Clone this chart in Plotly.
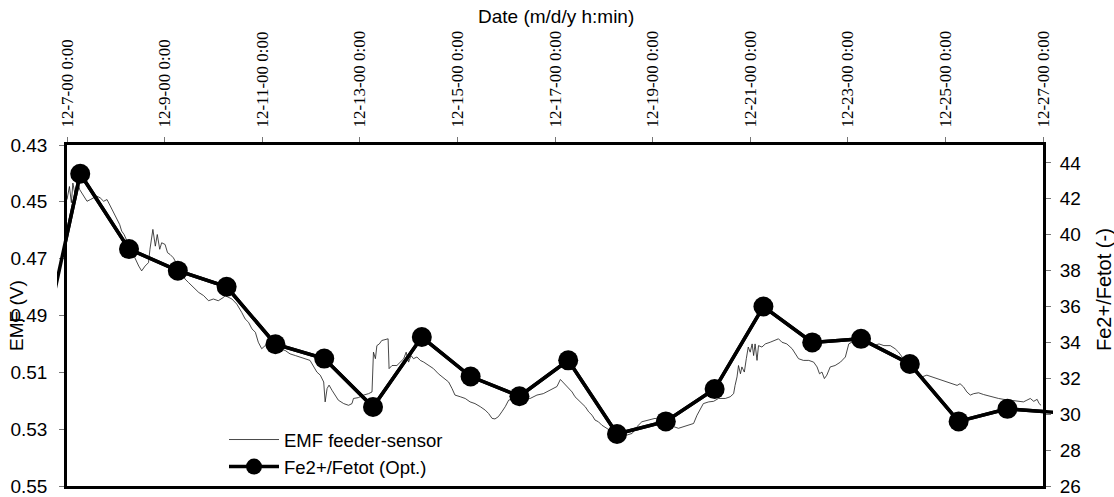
import plotly.graph_objects as go
import pandas as pd

# ---------------- data ----------------
start = pd.Timestamp("2000-12-07 00:00")
end = pd.Timestamp("2000-12-27 00:00")

# EMF feeder-sensor: days after 12-7-00 0:00, volts
emf_day = [
    0.00, 0.05, 0.09, 0.12, 0.17, 0.22, 0.26, 0.30, 0.35, 0.41, 0.48, 0.54, 0.61, 0.68,
    0.75, 0.82, 0.87, 0.92, 0.97, 1.02, 1.08, 1.12, 1.17, 1.23, 1.30, 1.40, 1.47, 1.53,
    1.60, 1.67, 1.70, 1.76, 1.81, 1.85, 1.90, 1.94, 2.01, 2.06, 2.11, 2.18, 2.30, 2.42,
    2.49, 2.59, 2.70, 2.80, 2.90, 3.00, 3.10, 3.21, 3.24, 3.38, 3.48, 3.58, 3.65, 3.72,
    3.79, 3.86, 3.92, 3.99, 4.06, 4.13, 4.30, 4.47, 4.57, 4.68, 4.78, 4.88, 4.98, 5.12,
    5.19, 5.26, 5.29, 5.33, 5.37, 5.43, 5.50, 5.56, 5.67, 5.77, 5.84, 5.87, 5.97, 6.08,
    6.18, 6.25, 6.28, 6.32, 6.35, 6.40, 6.45, 6.52, 6.58, 6.60, 6.66, 6.76, 6.83, 6.90,
    6.95, 7.00, 7.05, 7.10, 7.17, 7.24, 7.31, 7.41, 7.51, 7.61, 7.72, 7.82, 7.89, 7.95,
    8.06, 8.16, 8.26, 8.36, 8.47, 8.57, 8.64, 8.71, 8.77, 8.84, 8.91, 8.98, 9.05, 9.25,
    9.49, 9.63, 9.76, 9.90, 10.04, 10.11, 10.21, 10.28, 10.35, 10.41, 10.48, 10.55, 10.62,
    10.69, 10.76, 10.82, 10.89, 10.96, 11.06, 11.17, 11.30, 11.47, 11.58, 11.68, 11.78,
    11.92, 12.05, 12.20, 12.43, 12.53, 12.63, 12.74, 12.84, 12.91, 12.98, 13.04, 13.15,
    13.25, 13.35, 13.49, 13.59, 13.66, 13.69, 13.73, 13.76, 13.80, 13.83, 13.88, 13.92,
    13.96, 14.00, 14.04, 14.07, 14.10, 14.14, 14.17, 14.24, 14.31, 14.41, 14.51, 14.58,
    14.65, 14.75, 14.86, 14.92, 14.99, 15.09, 15.20, 15.30, 15.37, 15.42, 15.47, 15.52,
    15.57, 15.64, 15.74, 15.85, 15.95, 16.02, 16.08, 16.25, 16.43, 16.53, 16.64, 16.74,
    16.87, 16.97, 17.04, 17.15, 17.30, 17.45, 17.52, 17.62, 17.72, 17.83, 17.93, 18.03,
    18.13, 18.24, 18.30, 18.37, 18.44, 18.51, 18.58, 18.68, 18.78, 18.88, 18.99, 19.09,
    19.19, 19.35, 19.50, 19.60, 19.67, 19.74, 19.81, 19.88, 19.92, 19.96,
]
emf_volt = [
    0.4492, 0.4446, 0.4503, 0.4434, 0.4480, 0.4428, 0.4457, 0.4469, 0.4480, 0.4498, 0.4492, 0.4486, 0.4480, 0.4486,
    0.4498, 0.4492, 0.4510, 0.4527, 0.4545, 0.4562, 0.4580, 0.4603, 0.4615, 0.4638, 0.4665, 0.4702, 0.4726, 0.4743,
    0.4726, 0.4714, 0.4667, 0.4597, 0.4656, 0.4615, 0.4667, 0.4644, 0.4650, 0.4679, 0.4685, 0.4697, 0.4735, 0.4772,
    0.4784, 0.4801, 0.4819, 0.4830, 0.4848, 0.4842, 0.4848, 0.4836, 0.4830, 0.4842, 0.4860, 0.4889, 0.4912, 0.4924,
    0.4947, 0.4959, 0.4994, 0.5017, 0.5006, 0.5011, 0.5015, 0.5023, 0.5035, 0.5041, 0.5046, 0.5052, 0.5058, 0.5099,
    0.5110, 0.5134, 0.5204, 0.5157, 0.5145, 0.5163, 0.5180, 0.5198, 0.5210, 0.5216, 0.5210, 0.5192, 0.5189, 0.5180,
    0.5175, 0.5169, 0.5029, 0.5052, 0.5006, 0.5000, 0.4988, 0.4985, 0.4982, 0.5087, 0.5076, 0.5076, 0.5064, 0.5052,
    0.5029, 0.5064, 0.5041, 0.5052, 0.5046, 0.5058, 0.5064, 0.5076, 0.5087, 0.5105, 0.5122, 0.5134, 0.5157, 0.5180,
    0.5186, 0.5192, 0.5204, 0.5210, 0.5221, 0.5233, 0.5245, 0.5262, 0.5264, 0.5256, 0.5239, 0.5221, 0.5198, 0.5186,
    0.5192, 0.5180, 0.5175, 0.5163, 0.5150, 0.5125, 0.5143, 0.5157, 0.5169, 0.5186, 0.5198, 0.5210, 0.5221,
    0.5239, 0.5251, 0.5268, 0.5274, 0.5286, 0.5297, 0.5309, 0.5318, 0.5321, 0.5315, 0.5291, 0.5274,
    0.5268, 0.5262, 0.5270, 0.5291, 0.5297, 0.5291, 0.5286, 0.5280, 0.5251, 0.5227, 0.5210, 0.5204,
    0.5202, 0.5192, 0.5192, 0.5186, 0.5175, 0.5146, 0.5116, 0.5076, 0.5105, 0.5081, 0.5099, 0.5052,
    0.5011, 0.5029, 0.5000, 0.5041, 0.5000, 0.5058, 0.5006, 0.5011, 0.5000, 0.4994, 0.4988, 0.4982,
    0.4994, 0.5000, 0.5017, 0.5035, 0.5052, 0.5058, 0.5058, 0.5064, 0.5081, 0.5105, 0.5099, 0.5122,
    0.5110, 0.5081, 0.5076, 0.5064, 0.5046, 0.5000, 0.4994, 0.4992, 0.5000, 0.5006, 0.5000, 0.5006,
    0.5006, 0.5017, 0.5029, 0.5055, 0.5090, 0.5110, 0.5116, 0.5110, 0.5116, 0.5122, 0.5128, 0.5134,
    0.5140, 0.5146, 0.5140, 0.5151, 0.5169, 0.5180, 0.5175, 0.5172, 0.5178, 0.5183, 0.5188, 0.5192,
    0.5195, 0.5198, 0.5202, 0.5204, 0.5198, 0.5192, 0.5202, 0.5195, 0.5210, 0.5216,
]

# Fe2+/Fetot (optical), daily samples
fe_time = [
    "2000-12-06 06:30", "2000-12-07 06:30", "2000-12-08 06:30", "2000-12-09 06:30",
    "2000-12-10 06:30", "2000-12-11 06:30", "2000-12-12 06:30", "2000-12-13 06:30",
    "2000-12-14 06:30", "2000-12-15 06:30", "2000-12-16 06:30", "2000-12-17 06:30",
    "2000-12-18 06:30", "2000-12-19 06:30", "2000-12-20 06:30", "2000-12-21 06:30",
    "2000-12-22 06:30", "2000-12-23 06:30", "2000-12-24 06:30", "2000-12-25 06:30",
    "2000-12-26 06:30", "2000-12-27 06:30",
]
fe_ratio = [
    30.9, 43.4, 39.2, 38.0, 37.1, 33.9, 33.1, 30.4, 34.3, 32.1, 31.0, 33.0,
    28.9, 29.6, 31.4, 36.0, 34.0, 34.2, 32.8, 29.6, 30.3, 30.1,
]

x_tick_vals = ["2000-12-07", "2000-12-09", "2000-12-11", "2000-12-13", "2000-12-15", "2000-12-17",
               "2000-12-19", "2000-12-21", "2000-12-23", "2000-12-25", "2000-12-27"]
x_tick_text = ["12-7-00 0:00", "12-9-00 0:00", "12-11-00 0:00", "12-13-00 0:00", "12-15-00 0:00",
               "12-17-00 0:00", "12-19-00 0:00", "12-21-00 0:00", "12-23-00 0:00", "12-25-00 0:00",
               "12-27-00 0:00"]
y_left_ticks = [0.43, 0.45, 0.47, 0.49, 0.51, 0.53, 0.55]
y_left_text = ["0.43", "0.45", "0.47", "0.49", "0.51", "0.53", "0.55"]
y_right_ticks = [26, 28, 30, 32, 34, 36, 38, 40, 42, 44]

# ---------------- layout geometry (px) ----------------
W, H = 1114, 497
ML, MR, MT, MB = 57, 61, 145, 11
PW = W - ML - MR
PH = H - MT - MB
INSET = 10  # the optical series' line runs slightly past the frame
d0 = INSET / PW
d1 = 1 - INSET / PW
ext = (end - start) * INSET / (PW - 2 * INSET)

def px_x(p):
    return (p - ML) / PW

def px_y(p):
    return 1 - (p - MT) / PH

emf_time = [start + pd.Timedelta(days=d) for d in emf_day]

sans = "Liberation Sans, Arial, sans-serif"
serif = "Liberation Serif, Times New Roman, serif"

fig = go.Figure()
fig.add_trace(go.Scatter(
    x=emf_time, y=emf_volt, mode="lines", name="EMF feeder-sensor",
    line=dict(color="#1a1a1a", width=0.8), xaxis="x", yaxis="y",
))
# markers + line inside the frame (legend entry)
fig.add_trace(go.Scatter(
    x=fe_time, y=fe_ratio, mode="lines+markers", name="Fe2+/Fetot (Opt.)",
    line=dict(color="black", width=3.5), marker=dict(color="black", size=20),
    xaxis="x", yaxis="y2",
))
# same line, allowed to overshoot the frame a little as in the original
fig.add_trace(go.Scatter(
    x=fe_time, y=fe_ratio, mode="lines", showlegend=False, hoverinfo="skip",
    line=dict(color="black", width=3.5),
    xaxis="x3", yaxis="y2",
))

fig.update_layout(
    width=W, height=H,
    margin=dict(l=ML, r=MR, t=MT, b=MB, pad=0, autoexpand=False),
    paper_bgcolor="white", plot_bgcolor="rgba(0,0,0,0)",
    font=dict(family=sans, color="black", size=18),
    showlegend=True,
    legend=dict(
        x=px_x(224), y=0, xanchor="left", yanchor="bottom",
        bgcolor="rgba(0,0,0,0)", font=dict(family=sans, size=18.5, color="black"),
        itemwidth=50, tracegroupgap=0,
    ),
    xaxis=dict(
        type="date", range=[start, end], domain=[d0, d1], side="top", anchor="y",
        tickmode="array", tickvals=x_tick_vals, ticktext=x_tick_text, tickangle=-90,
        tickfont=dict(family=serif, size=17, color="black"),
        ticks="outside", ticklen=5, tickwidth=1, tickcolor="#777",
        ticklabelstandoff=6, automargin=False, ticklabeloverflow="allow",
        showline=True, linewidth=3, linecolor="black", mirror=True,
        showgrid=False, zeroline=False,
    ),
    xaxis3=dict(
        type="date", range=[start - ext, end + ext], domain=[0, 1], anchor="y2",
        visible=False, showgrid=False, zeroline=False,
    ),
    yaxis=dict(
        range=[0.55, 0.43], anchor="x", tickmode="array",
        tickvals=y_left_ticks, ticktext=y_left_text,
        tickfont=dict(family=sans, size=19, color="black"),
        ticks="outside", ticklen=5, tickwidth=1, tickcolor="#777",
        ticklabelstandoff=8, automargin=False, ticklabeloverflow="allow",
        showline=True, linewidth=2.5, linecolor="black",
        showgrid=False, zeroline=False,
    ),
    yaxis2=dict(
        range=[26, 45], overlaying="y", side="right", anchor="x", tickmode="array",
        tickvals=y_right_ticks,
        tickfont=dict(family=sans, size=19, color="black"),
        ticks="outside", ticklen=5, tickwidth=1, tickcolor="#777",
        ticklabelstandoff=5, automargin=False, ticklabeloverflow="allow",
        showline=True, linewidth=3, linecolor="black",
        showgrid=False, zeroline=False,
    ),
    annotations=[
        dict(text="Date (m/d/y h:min)", xref="paper", yref="paper",
             x=px_x(556), y=px_y(17), xanchor="center", yanchor="middle", showarrow=False,
             font=dict(family=sans, size=19, color="black")),
        dict(text="EMF (V)", xref="paper", yref="paper", textangle=-90,
             x=px_x(16), y=px_y(316), xanchor="center", yanchor="middle", showarrow=False,
             font=dict(family=sans, size=19, color="black")),
        dict(text="Fe2+/Fetot (-)", xref="paper", yref="paper", textangle=-90,
             x=px_x(1104), y=px_y(290), xanchor="center", yanchor="middle", showarrow=False,
             font=dict(family=sans, size=20, color="black")),
    ],
)

fig.write_html("out.html")
